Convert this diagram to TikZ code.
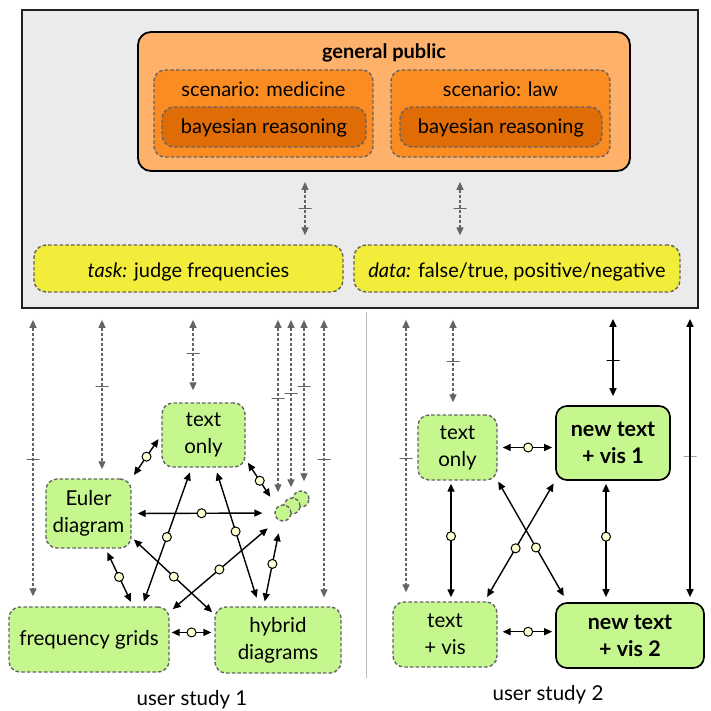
\documentclass[tikz,border=0pt]{standalone}
\usepackage{fontspec}
\setmainfont{Lato}
\usetikzlibrary{arrows.meta,calc}
\definecolor{bgg}{RGB}{235,235,235}
\definecolor{boxb}{RGB}{34,34,34}
\definecolor{orl}{RGB}{253,177,107}
\definecolor{orm}{RGB}{251,140,34}
\definecolor{ord}{RGB}{224,108,6}
\definecolor{yel}{RGB}{242,237,58}
\definecolor{grn}{RGB}{198,247,143}
\definecolor{lnc}{RGB}{100,100,100}
\definecolor{cfill}{RGB}{255,255,212}
\definecolor{divc}{RGB}{190,190,190}
\newcommand{\topfont}{\fontsize{20}{24}\selectfont}
\newcommand{\ndfont}{\fontsize{20.5}{27}\selectfont}
\newcommand{\nbfont}{\fontsize{21.5}{27}\selectfont\bfseries}
\tikzset{
  dgray/.style={draw=lnc, dash pattern=on 3.5pt off 2.2pt, line width=1.4pt},
  orbox/.style={fill=orl, draw=black, line width=1.8pt, rounded corners=13pt, inner sep=0pt},
  scbox/.style={fill=orm, dgray, rounded corners=11pt, inner sep=0pt},
  bybox/.style={fill=ord, dgray, rounded corners=12pt, inner sep=0pt},
  ybox/.style={fill=yel, dgray, rounded corners=12pt, inner sep=0pt},
  gnode/.style={fill=grn, dgray, rounded corners=11pt, align=center, inner sep=0pt, font=\ndfont},
  nnode/.style={fill=grn, draw=black, line width=1.7pt, rounded corners=11pt, align=center, inner sep=0pt, font=\nbfont},
  blob/.style={circle, fill=grn, dgray, minimum size=16pt, inner sep=0pt},
  txt/.style={inner sep=0pt, font=\topfont},
  darr/.style={draw=lnc, line width=1.3pt, dash pattern=on 3pt off 2pt,
    {Triangle[length=8pt,width=7pt]}-{Triangle[length=8pt,width=7pt]}},
  sarr/.style={draw=black, line width=1.4pt,
    {Triangle[length=8pt,width=7pt]}-{Triangle[length=8pt,width=7pt]}},
  gtick/.style={draw=lnc, solid, line width=1pt, minimum width=13pt, minimum height=0pt, inner sep=0pt, shape=rectangle},
  btick/.style={draw=black, solid, line width=1pt, minimum width=13pt, minimum height=0pt, inner sep=0pt, shape=rectangle},
  circ/.style={circle, draw=black, fill=cfill, solid, line width=1pt, minimum size=9pt, inner sep=0pt}
}
\begin{document}
\begin{tikzpicture}[x=1pt,y=-1pt]
\useasboundingbox (0,0) rectangle (711,711);
\fill[white] (0,0) rectangle (711,711);

% top frame
\node[draw=boxb, line width=1.8pt, fill=bgg, minimum width=676pt, minimum height=298pt, inner sep=0pt] (bg) at (360,159) {};
\node[orbox, minimum width=492pt, minimum height=139pt] (gp) at (384,101.5) {};
\node[txt, font=\topfont\bfseries, anchor=base] (gpt) at (384,59) {general public};
\node[scbox, minimum width=219pt, minimum height=87pt] (sm) at (263.5,113.5) {};
\node[scbox, minimum width=219pt, minimum height=87pt] (sl) at (500.5,113.5) {};
\node[txt, anchor=base] (smt) at (263.5,96.5) {scenario: medicine};
\node[txt, anchor=base] (slt) at (500.5,96.5) {scenario: law};
\node[bybox, minimum width=204pt, minimum height=40pt] (bm) at (264,127) {};
\node[bybox, minimum width=202pt, minimum height=40pt] (bl) at (501,127) {};
\node[txt, anchor=base] (bmt) at (264,133.5) {bayesian reasoning};
\node[txt, anchor=base] (blt) at (501,133.5) {bayesian reasoning};
\node[ybox, minimum width=309pt, minimum height=47pt] (task) at (188.5,268.5) {};
\node[ybox, minimum width=326pt, minimum height=47pt] (data) at (517,268.5) {};
\node[txt, anchor=base] (taskt) at (188.5,277) {\textit{task:} judge frequencies};
\node[txt, anchor=base] (datat) at (517,277) {\textit{data:} false/true, positive/negative};

\coordinate (ta) at (305,0);
\coordinate (tb) at (460,0);
\draw[darr, shorten <=10pt, shorten >=9pt] (gp.south -| ta) -- (task.north -| ta) node[gtick, pos=0.51] {};
\draw[darr, shorten <=10pt, shorten >=9pt] (gp.south -| tb) -- (data.north -| tb) node[gtick, pos=0.51] {};

% divider
\draw[divc, line width=1pt] (366,312) -- (366,678);

% user study 1 nodes
\node[gnode, minimum width=83pt, minimum height=64pt] (to1) at (203.5,435) {text\\only};
\node[gnode, minimum width=85pt, minimum height=69pt] (eu) at (88.5,513.5) {Euler\\diagram};
\node[gnode, minimum width=160pt, minimum height=65pt] (fg) at (89,639.5) {frequency grids};
\node[gnode, minimum width=126pt, minimum height=66pt] (hy) at (278,640) {hybrid\\diagrams};
\node[blob] (c3) at (301,499) {};
\node[blob] (c2) at (292,506) {};
\node[blob] (c1) at (283,513) {};

% user study 2 nodes
\node[gnode, minimum width=79pt, minimum height=65pt] (to2) at (457.5,447.5) {text\\only};
\node[nnode, minimum width=114pt, minimum height=74pt] (nt1) at (613,443) {new text\\+ vis 1};
\node[gnode, minimum width=104pt, minimum height=65pt] (tv) at (445,634.5) {text\\+ vis};
\node[nnode, minimum width=148pt, minimum height=65pt] (nt2) at (630,635.5) {new text\\+ vis 2};

\node[inner sep=0pt, font=\fontsize{20.5}{24}\selectfont, anchor=base] (us1) at (192,705) {user study 1};
\node[inner sep=0pt, font=\fontsize{20.5}{24}\selectfont, anchor=base] (us2) at (548,700) {user study 2};

% dashed arrows from frame, study 1
\coordinate (x1) at (33,0);
\coordinate (x2) at (102,0);
\coordinate (x3) at (193,0);
\coordinate (x4) at (278,0);
\coordinate (x5) at (291,0);
\coordinate (x6) at (304,0);
\coordinate (x7) at (324,0);
\draw[darr, shorten <=11pt, shorten >=10pt] (bg.south -| x1) -- (fg.north -| x1) node[gtick, pos=0.505] {};
\draw[darr, shorten <=11pt, shorten >=9pt] (bg.south -| x2) -- (eu.north -| x2) node[gtick, pos=0.46] {};
\draw[darr, shorten <=11pt, shorten >=12pt] (bg.south -| x3) -- (to1.north -| x3) node[gtick, pos=0.48] {};
\draw[darr, shorten <=11pt, shorten >=12pt] (bg.south -| x4) -- (c1.north -| x4) node[gtick, pos=0.46] {};
\draw[darr, shorten <=11pt, shorten >=10pt] (bg.south -| x5) -- (c2.north -| x5) node[gtick, pos=0.45] {};
\draw[darr, shorten <=11pt, shorten >=9pt] (bg.south -| x6) -- (c3.north -| x6) node[gtick, pos=0.43] {};
\draw[darr, shorten <=11pt, shorten >=9pt] (bg.south -| x7) -- (hy.north -| x7) node[gtick, pos=0.505] {};

% study 1 connections
\draw[sarr, shorten <=5pt, shorten >=4pt] (to1.west) -- (eu.north east) node[circ, pos=0.5] {};
\draw[sarr, shorten <=4pt, shorten >=12pt] (to1.-30) -- (c1.135) node[circ, pos=0.45] {};
\draw[sarr, shorten <=6pt, shorten >=12pt] (eu.east) -- (c1.west) node[circ, pos=0.49] {};
\draw[sarr, shorten <=5pt, shorten >=5pt] (to1.-110) -- (fg.32) node[circ, pos=0.5] {};
\draw[sarr, shorten <=5pt, shorten >=9pt] (to1.-70) -- (hy.119) node[circ, pos=0.46] {};
\draw[sarr, shorten <=4pt, shorten >=5pt] (eu.-64) -- (fg.37) node[circ, pos=0.49] {};
\draw[sarr, shorten <=3pt, shorten >=3pt] (eu.-29) -- (hy.158) node[circ, pos=0.51] {};
\draw[sarr, shorten <=4pt, shorten >=13pt] (fg.19) -- (c1.-128) node[circ, pos=0.46] {};
\draw[sarr, shorten <=5pt, shorten >=12pt] (hy.113) -- (c1.-103) node[circ, pos=0.5] {};
\draw[sarr, shorten <=2pt, shorten >=3pt] (fg.5) -- (fg.5 -| hy.west) node[circ, pos=0.49] {};

% study 2 arrows from frame
\coordinate (y1) at (406,0);
\coordinate (y2) at (453,0);
\coordinate (y3) at (613,0);
\coordinate (y4) at (690,0);
\draw[darr, shorten <=11pt, shorten >=9pt] (bg.south -| y1) -- (tv.north -| y1) node[gtick, pos=0.51] {};
\draw[darr, shorten <=11pt, shorten >=12pt] (bg.south -| y2) -- (to2.north -| y2) node[gtick, pos=0.5] {};
\draw[sarr, shorten <=10pt, shorten >=9pt] (bg.south -| y3) -- (nt1.north -| y3) node[btick, pos=0.54] {};
\draw[sarr, shorten <=10pt, shorten >=5pt] (bg.south -| y4) -- (nt2.north -| y4) node[btick, pos=0.505] {};

% study 2 connections
\coordinate (v1) at (451,0);
\coordinate (v2) at (606,0);
\draw[sarr, shorten <=5pt, shorten >=3pt] (to2.east) -- (to2.east -| nt1.west) node[circ, pos=0.53] {};
\draw[sarr, shorten <=5pt, shorten >=3pt] (tv.3) -- (tv.3 -| nt2.west) node[circ, pos=0.53] {};
\draw[sarr, shorten <=3pt, shorten >=4pt] (to2.south -| v1) -- (tv.north -| v1) node[circ, pos=0.46] {};
\draw[sarr, shorten <=3pt, shorten >=5pt] (nt1.south -| v2) -- (nt2.north -| v2) node[circ, pos=0.46] {};
\draw[sarr, shorten <=1pt, shorten >=7pt] (to2.south east) -- (nt2.152) node[circ, pos=0.55] {};
\draw[sarr, shorten <=3pt, shorten >=5pt] (nt1.south west) -- (tv.40) node[circ, pos=0.56] {};
\end{tikzpicture}
\end{document}
